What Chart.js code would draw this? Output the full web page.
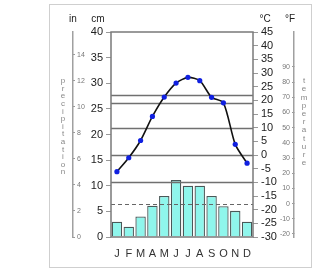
<!DOCTYPE html>
<html>
<head>
<meta charset="utf-8">
<script src="https://cdn.jsdelivr.net/npm/chart.js@4/dist/chart.umd.min.js"></script>
<style>
html,body{margin:0;padding:0;background:#fff;}
#wrap{width:315px;height:271px;position:relative;}
</style>
</head>
<body>
<div id="wrap"><canvas id="c" width="315" height="271"></canvas></div>
<script>
const months = ['J','F','M','A','M','J','J','A','S','O','N','D'];
const precipCm = [3, 2, 4, 6.1, 8, 11.1, 10, 10, 8, 6, 5.1, 3];
const tempC = [-6.1, -1, 5.3, 14.1, 21.2, 26.3, 28.4, 27.2, 21.1, 19.1, 3.9, -3];
const refLinesC = [22, 19, 10, 0, -10];
const dashedLinesC = [-18];
const unitLabels = ['in', 'cm', '°C', '°F'];
const sideTitles = ['precipitation', 'temperature'];

const FONT = "'Liberation Sans', Arial, sans-serif";

const decor = {
  id: 'decor',
  beforeDraw(chart) {
    const ctx = chart.ctx;
    ctx.save();
    ctx.strokeStyle = '#cfcfcf';
    ctx.lineWidth = 1;
    ctx.strokeRect(49.5, 4.5, 262, 263);
    ctx.restore();
  },
  afterDatasetDraw(chart, args) {
    if (args.meta.type !== 'bar') return;
    const ctx = chart.ctx, a = chart.chartArea, y = chart.scales.c;
    ctx.save();
    ctx.strokeStyle = '#707070';
    ctx.lineWidth = 1.5;
    refLinesC.forEach(v => {
      const py = Math.round(y.getPixelForValue(v)) + 0.5;
      ctx.beginPath(); ctx.moveTo(a.left, py); ctx.lineTo(a.right, py); ctx.stroke();
    });
    ctx.lineWidth = 1.2;
    ctx.strokeStyle = '#666';
    ctx.setLineDash([4, 3]);
    dashedLinesC.forEach(v => {
      const py = Math.round(y.getPixelForValue(v)) + 0.5;
      ctx.beginPath(); ctx.moveTo(a.left, py); ctx.lineTo(a.right, py); ctx.stroke();
    });
    ctx.restore();
  },
  afterDraw(chart) {
    const ctx = chart.ctx, a = chart.chartArea;
    ctx.save();
    ctx.strokeStyle = '#7a7a7a';
    ctx.lineWidth = 1.5;
    ctx.strokeRect(a.left, a.top, a.right - a.left, a.bottom - a.top);
    ctx.fillStyle = '#222';
    ctx.font = '10px ' + FONT;
    ctx.textAlign = 'center';
    ctx.textBaseline = 'middle';
    const xs = [chart.scales.inch.right, (chart.scales.cm.left + chart.scales.cm.right) / 2 + 6,
                chart.scales.c.left + 12, chart.scales.f.left - 4];
    unitLabels.forEach((t, i) => ctx.fillText(t, xs[i], 19));
    ctx.fillStyle = '#888';
    ctx.font = '8px ' + FONT;
    const p = sideTitles[0];
    for (let i = 0; i < p.length; i++) ctx.fillText(p[i], 63, 81 + i * 7.6);
    const t = sideTitles[1];
    for (let i = 0; i < t.length; i++) ctx.fillText(t[i], 304, 81 + i * 8.2);
    ctx.restore();
  }
};

new Chart(document.getElementById('c'), {
  data: {
    labels: months,
    datasets: [
      {
        type: 'line',
        data: tempC,
        yAxisID: 'c',
        order: 0,
        borderColor: '#111',
        borderWidth: 1.6,
        tension: 0.25,
        pointRadius: 2.6,
        pointBackgroundColor: '#1020e0',
        pointBorderWidth: 0
      },
      {
        type: 'bar',
        data: precipCm,
        yAxisID: 'cm',
        order: 1,
        backgroundColor: '#8ff6ec',
        borderColor: '#4a5858',
        borderWidth: 1.3,
        barPercentage: 0.88,
        categoryPercentage: 1
      }
    ]
  },
  options: {
    responsive: false,
    animation: false,
    devicePixelRatio: 1,
    layout: { padding: { top: 32, left: 0, right: 0, bottom: 0 } },
    plugins: { legend: { display: false }, tooltip: { enabled: false } },
    scales: {
      x: {
        type: 'category',
        offset: true,
        grid: { display: false },
        border: { display: false },
        ticks: { font: { size: 11, family: FONT }, color: '#333', padding: 2, autoSkip: false, maxRotation: 0 },
        afterFit: s => { s.height = 34; }
      },
      cm: {
        position: 'left', weight: 0, min: 0, max: 40,
        ticks: { stepSize: 5, autoSkip: false, font: { size: 11, family: FONT }, color: '#222', padding: 3 },
        grid: { drawOnChartArea: false, tickLength: 5, color: '#999' },
        border: { display: false },
        afterFit: s => { s.width = 38; }
      },
      inch: {
        position: 'left', weight: 1, min: 0, max: 40 / 2.54,
        ticks: { stepSize: 2, autoSkip: false, mirror: true, padding: 4, includeBounds: false, font: { size: 7, family: FONT }, color: '#777' },
        grid: { drawOnChartArea: false, tickLength: -2, color: '#999' },
        border: { color: '#a0a0a0', width: 1.5 },
        afterFit: s => { s.width = 73; }
      },
      c: {
        position: 'right', weight: 0, min: -30, max: 45,
        ticks: { stepSize: 5, autoSkip: false, font: { size: 11, family: FONT }, color: '#222', padding: 3 },
        grid: { drawOnChartArea: false, tickLength: 5, color: '#999' },
        border: { display: false },
        afterFit: s => { s.width = 41; }
      },
      f: {
        position: 'right', weight: 1, min: -22, max: 113,
        ticks: { stepSize: 10, autoSkip: false, mirror: true, padding: -4, includeBounds: false, font: { size: 7, family: FONT }, color: '#777',
                 callback: v => (v <= 90 ? v : null) },
        grid: { drawOnChartArea: false, tickLength: -2, color: '#999' },
        border: { color: '#a0a0a0', width: 1.5 },
        afterFit: s => { s.width = 21; }
      }
    }
  },
  plugins: [decor]
});
</script>
</body>
</html>
